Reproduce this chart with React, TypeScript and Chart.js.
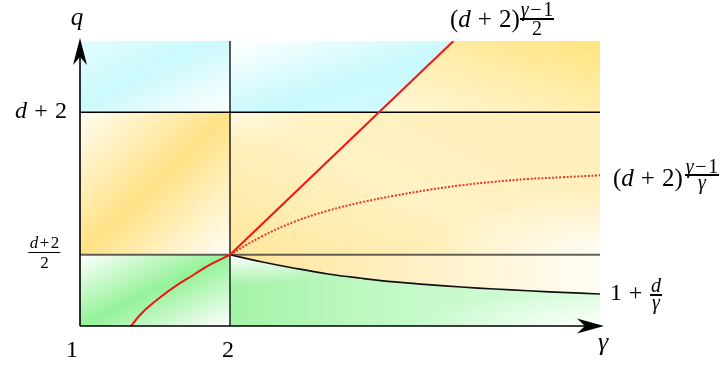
import React, { useEffect, useRef, useState } from 'react';
import { Chart, registerables } from 'chart.js';

Chart.register(...registerables);

// ---- axis ranges / reference levels ----
const GAMMA_MIN = 1;
const GAMMA_MAX = 4.467;
const Q_MIN = 1;
const Q_MAX = 5;
const gammaSplit = 2; // vertical line at gamma = 2
const qHigh = 4; // d + 2
const qMid = 2; // (d + 2) / 2

// ---- tick labels ----
const xTickValues = [1, 2];
const xTickLabels = ['1', '2'];

// ---- curves ----
const redLowGamma = [1.34, 1.39, 1.444, 1.533, 1.644, 1.756, 1.867, 2.0];
const redLowQ = [1.0, 1.13, 1.245, 1.4, 1.57, 1.716, 1.86, 2.0];

const redHighGamma = [2.0, 3.49];
const redHighQ = [2.0, 5.0];

const dottedGamma = [2.0, 2.209, 2.431, 2.653, 2.875, 3.098, 3.32, 3.542, 3.765, 3.987, 4.209, 4.467];
const dottedQ = [2.0, 2.253, 2.464, 2.618, 2.736, 2.829, 2.909, 2.975, 3.025, 3.063, 3.087, 3.115];

const blackGamma = [2.0, 2.209, 2.431, 2.653, 2.875, 3.098, 3.32, 3.542, 3.765, 3.987, 4.209, 4.467];
const blackQ = [2.0, 1.902, 1.81, 1.73, 1.67, 1.618, 1.58, 1.547, 1.519, 1.495, 1.473, 1.449];

// ---- label texts (string = upright, [string] = italic, number = gap in em) ----
type Part = string | number | [string];
const labelQ: Part[] = [['q']];
const labelGamma: Part[] = [['γ']];
const labelHigh: Part[] = [['d'], 0.3, '+', 0.3, '2'];
const labelMidNum: Part[] = [['d'], 0.08, '+', 0.08, '2'];
const labelMidDen: Part[] = ['2'];
const labelTopBase: Part[] = ['(', ['d'], 0.28, '+', 0.28, '2', ')'];
const labelTopNum: Part[] = [['γ'], 0.08, '−', 0.08, '1'];
const labelTopDen: Part[] = ['2'];
const labelDotBase: Part[] = ['(', ['d'], 0.28, '+', 0.28, '2', ')'];
const labelDotNum: Part[] = [['γ'], 0.08, '−', 0.08, '1'];
const labelDotDen: Part[] = [['γ']];
const labelBlackBase: Part[] = ['1', 0.28, '+', 0.28];
const labelBlackNum: Part[] = [['d']];
const labelBlackDen: Part[] = [['γ']];

const FONT = "'Liberation Serif', 'Times New Roman', serif";
const ASC = 0.8375; // baseline offset for line-height = 1em (Liberation Serif)

const pts = (gs: number[], qs: number[]) => gs.map((g, i) => ({ x: g, y: qs[i] }));

function renderParts(parts: Part[]) {
  return parts.map((p, i) => {
    if (typeof p === 'number') return <span key={i} style={{ display: 'inline-block', width: `${p}em` }} />;
    if (Array.isArray(p)) return <i key={i}>{p[0]}</i>;
    return <span key={i}>{p}</span>;
  });
}

type FracSpec = { num: Part[]; den: Part[]; size: number; barY: number; numOff: number; denOff: number; gap: number };

function MathLabel(props: {
  x: number;
  base: number;
  size: number;
  run?: Part[];
  frac?: FracSpec;
  align?: 'left' | 'center' | 'right';
}) {
  const { x, base, size, run, frac, align = 'left' } = props;
  let top: number;
  let runMargin = 0;
  let fracEl: any = null;
  if (frac) {
    const S = frac.size;
    const m1 = frac.numOff - (1 - ASC) * S - 0.6;
    const m2 = frac.denOff - 0.6 - ASC * S;
    top = frac.barY - 0.6 - m1 - S;
    runMargin = base - top - ASC * size;
    fracEl = (
      <span
        style={{
          display: 'inline-flex',
          flexDirection: 'column',
          alignItems: 'center',
          fontSize: S,
          lineHeight: `${S}px`,
          marginLeft: frac.gap,
        }}
      >
        <span style={{ display: 'block', height: S, marginBottom: m1, whiteSpace: 'nowrap' }}>{renderParts(frac.num)}</span>
        <span style={{ display: 'block', height: 1.2, background: '#000', alignSelf: 'stretch', margin: `0 -${S * 0.06}px` }} />
        <span style={{ display: 'block', height: S, marginTop: m2, whiteSpace: 'nowrap' }}>{renderParts(frac.den)}</span>
      </span>
    );
  } else {
    top = base - ASC * size;
  }
  const style: any = {
    position: 'absolute',
    top,
    display: 'flex',
    alignItems: 'flex-start',
    whiteSpace: 'nowrap',
    fontFamily: FONT,
    color: '#000',
  };
  if (align === 'left') style.left = x;
  if (align === 'right') style.right = 722 - x;
  if (align === 'center') {
    style.left = x;
    style.transform = 'translateX(-50%)';
  }
  return (
    <div style={style}>
      {run && (
        <span style={{ display: 'block', fontSize: size, lineHeight: `${size}px`, height: size, marginTop: runMargin }}>
          {renderParts(run)}
        </span>
      )}
      {fracEl}
    </div>
  );
}

type Layer = { lin?: number[]; rad?: number[]; stops: [number, string][] };
type Region = { rect: number[]; clips: number[][][]; layers: Layer[] };

const regionsPlugin = {
  id: 'regions',
  beforeDatasetsDraw(chart: any) {
    const { ctx } = chart;
    const xs = chart.scales.x;
    const ys = chart.scales.y;
    const px = (g: number) => xs.getPixelForValue(g);
    const py = (q: number) => ys.getPixelForValue(q);

    const redTop: number[][] = [
      [redHighGamma[0], redHighQ[0]],
      [redHighGamma[1], redHighQ[1]],
    ];
    const cyanTri = [redTop[0], [gammaSplit, Q_MAX], redTop[1]];
    const yellowPoly = [redTop[0], redTop[1], [GAMMA_MAX, Q_MAX], [GAMMA_MAX, qMid]];
    const blackPts = blackGamma.map((g, i) => [g, blackQ[i]]);
    const belowBlack = [...blackPts, [GAMMA_MAX, Q_MIN], [gammaSplit, Q_MIN]];
    const aboveBlack = [[gammaSplit, qMid], [GAMMA_MAX, qMid], ...blackPts.slice().reverse()];

    const regions: Region[] = [
      {
        rect: [GAMMA_MIN, gammaSplit, qHigh, Q_MAX],
        clips: [],
        layers: [{ lin: [0, 0, 1, 1], stops: [[0, '#e2fdfe'], [0.45, '#cbf9fc'], [1, '#ffffff']] }],
      },
      {
        rect: [gammaSplit, redHighGamma[1], qHigh, Q_MAX],
        clips: [cyanTri],
        layers: [{ lin: [0, 0, 1, 1], stops: [[0, '#ffffff'], [0.55, '#c9f9fc'], [1, '#d4fafd']] }],
      },
      {
        rect: [3.0, GAMMA_MAX, qHigh, Q_MAX],
        clips: [yellowPoly],
        layers: [{ lin: [0, 1, 1, 0], stops: [[0, '#fff8dc'], [1, '#ffe47f']] }],
      },
      {
        rect: [GAMMA_MIN, gammaSplit, qMid, qHigh],
        clips: [],
        layers: [{ lin: [0, 0, 1, 1], stops: [[0, '#fffdf3'], [0.5, '#ffe286'], [1, '#fffef8']] }],
      },
      {
        rect: [gammaSplit, GAMMA_MAX, qMid, qHigh],
        clips: [],
        layers: [
          { lin: [0, 1, 1, 0.2], stops: [[0, '#ffe79c'], [0.5, '#fff2c4'], [1, '#ffefba']] },
          { rad: [1, 1, 0.45], stops: [[0, 'rgba(255,255,255,0.85)'], [1, 'rgba(255,255,255,0)']] },
          { rad: [0, 0, 0.22], stops: [[0, 'rgba(255,255,255,0.5)'], [1, 'rgba(255,255,255,0)']] },
        ],
      },
      {
        rect: [gammaSplit, GAMMA_MAX, 1.4, qMid],
        clips: [aboveBlack],
        layers: [{ lin: [0, 0, 1, 0], stops: [[0, '#ffe498'], [0.6, '#fff3cf'], [1, '#fffdf5']] }],
      },
      {
        rect: [GAMMA_MIN, gammaSplit, Q_MIN, qMid],
        clips: [],
        layers: [{ lin: [0, 0, 1, 1], stops: [[0, '#ffffff'], [0.5, '#94f299'], [1, '#ffffff']] }],
      },
      {
        rect: [gammaSplit, GAMMA_MAX, Q_MIN, qMid],
        clips: [belowBlack],
        layers: [
          { lin: [0, 0, 1, 0], stops: [[0, '#a4f3a7'], [0.45, '#c3f9c7'], [1, '#d8fddb']] },
          { rad: [0, 0, 0.42], stops: [[0, 'rgba(255,255,255,1)'], [1, 'rgba(255,255,255,0)']] },
          { rad: [1, 1, 0.5], stops: [[0, 'rgba(255,255,255,0.9)'], [1, 'rgba(255,255,255,0)']] },
        ],
      },
    ];

    for (const r of regions) {
      const [g0, g1, q0, q1] = r.rect;
      const X0 = px(g0);
      const Y0 = py(q1);
      const W = px(g1) - X0;
      const H = py(q0) - Y0;
      ctx.save();
      ctx.beginPath();
      ctx.rect(X0, Y0, W, H);
      ctx.clip();
      for (const poly of r.clips) {
        ctx.beginPath();
        poly.forEach(([g, q], i) => (i ? ctx.lineTo(px(g), py(q)) : ctx.moveTo(px(g), py(q))));
        ctx.closePath();
        ctx.clip();
      }
      ctx.translate(X0, Y0);
      ctx.scale(W, H);
      for (const l of r.layers) {
        const gr = l.lin
          ? ctx.createLinearGradient(l.lin[0], l.lin[1], l.lin[2], l.lin[3])
          : ctx.createRadialGradient(l.rad![0], l.rad![1], 0, l.rad![0], l.rad![1], l.rad![2]);
        l.stops.forEach(([o, c]) => gr.addColorStop(o, c));
        ctx.fillStyle = gr;
        ctx.fillRect(0, 0, 1, 1);
      }
      ctx.restore();
    }
  },
};

const axesPlugin = {
  id: 'axesArrows',
  afterDraw(chart: any) {
    const { ctx } = chart;
    const ox = chart.scales.x.getPixelForValue(GAMMA_MIN);
    const oy = chart.scales.y.getPixelForValue(Q_MIN);
    ctx.save();
    ctx.fillStyle = '#000';
    ctx.strokeStyle = '#000';
    ctx.lineWidth = 1.6;
    ctx.beginPath();
    ctx.moveTo(ox, oy);
    ctx.lineTo(ox, 52);
    ctx.moveTo(ox, oy);
    ctx.lineTo(590, oy);
    ctx.stroke();
    ctx.beginPath();
    ctx.moveTo(ox, 38);
    ctx.lineTo(ox + 7, 65);
    ctx.lineTo(ox, 57);
    ctx.lineTo(ox - 7, 65);
    ctx.closePath();
    ctx.fill();
    const tx = 604;
    ctx.beginPath();
    ctx.moveTo(tx, oy);
    ctx.lineTo(tx - 27, oy - 7.5);
    ctx.lineTo(tx - 19, oy);
    ctx.lineTo(tx - 27, oy + 7.5);
    ctx.closePath();
    ctx.fill();
    ctx.restore();
  },
};

type Pos = { ticks: number[]; yHigh: number; yMid: number };

export default function App() {
  const ref = useRef<HTMLCanvasElement>(null);
  const [pos, setPos] = useState<Pos | null>(null);
  useEffect(() => {
    const line = (data: any[], color: string, width: number, order: number, extra: any = {}) => ({
      data,
      showLine: true,
      fill: false,
      borderColor: color,
      borderWidth: width,
      pointRadius: 0,
      pointHoverRadius: 0,
      order,
      ...extra,
    });
    const chart = new Chart(ref.current!, {
      type: 'scatter',
      data: {
        datasets: [
          line(pts(redHighGamma, redHighQ), '#f21414', 2, 0),
          line(pts(redLowGamma, redLowQ), '#f21414', 2, 0, { tension: 0.4 }),
          line(pts(dottedGamma, dottedQ), '#e4382a', 2, 1, { borderDash: [2, 1.6], tension: 0.4 }),
          line(pts(blackGamma, blackQ), '#111111', 1.7, 1, { tension: 0.4 }),
          line(pts([GAMMA_MIN, GAMMA_MAX], [qHigh, qHigh]), '#000000', 1.3, 5),
          line(pts([GAMMA_MIN, GAMMA_MAX], [qMid, qMid]), 'rgba(70,70,64,0.85)', 1.8, 5),
          line(pts([gammaSplit, gammaSplit], [Q_MIN, Q_MAX]), '#000000', 1.3, 5),
        ],
      },
      options: {
        animation: false,
        responsive: false,
        devicePixelRatio: 1,
        layout: { padding: { left: 80, right: 122, top: 41, bottom: 39 } },
        scales: {
          x: { type: 'linear', min: GAMMA_MIN, max: GAMMA_MAX, display: false },
          y: { type: 'linear', min: Q_MIN, max: Q_MAX, display: false },
        },
        plugins: { legend: { display: false }, tooltip: { enabled: false } },
        events: [],
      },
      plugins: [regionsPlugin, axesPlugin],
    } as any);
    const xs: any = chart.scales.x;
    const ys: any = chart.scales.y;
    setPos({
      ticks: xTickValues.map((v) => xs.getPixelForValue(v)),
      yHigh: ys.getPixelForValue(qHigh),
      yMid: ys.getPixelForValue(qMid),
    });
    return () => {
      chart.destroy();
    };
  }, []);
  const tickShift = [-8, -2];
  return (
    <div style={{ position: 'fixed', left: 0, top: 0, width: 722, height: 365, background: '#ffffff', overflow: 'hidden' }}>
      <canvas ref={ref} width={722} height={365} style={{ display: 'block', width: 722, height: 365 }} />
      {pos && (
        <>
          <MathLabel x={77} base={25} size={25} run={labelQ} align="center" />
          <MathLabel x={603} base={351} size={26} run={labelGamma} align="center" />
          {xTickLabels.map((t, i) => (
            <MathLabel key={t} x={pos.ticks[i] + tickShift[i]} base={357} size={24} run={[t]} align="center" />
          ))}
          <MathLabel x={67} base={pos.yHigh + 6} size={24} run={labelHigh} align="right" />
          <MathLabel
            x={44.5}
            base={0}
            size={17}
            align="center"
            frac={{ num: labelMidNum, den: labelMidDen, size: 17, barY: pos.yMid - 2.5, numOff: 4, denOff: 16, gap: 0 }}
          />
          <MathLabel
            x={450}
            base={27}
            size={25}
            run={labelTopBase}
            frac={{ num: labelTopNum, den: labelTopDen, size: 20, barY: 19, numOff: 3.5, denOff: 16, gap: 1 }}
          />
          <MathLabel
            x={613}
            base={186}
            size={25}
            run={labelDotBase}
            frac={{ num: labelDotNum, den: labelDotDen, size: 20, barY: 175, numOff: 2.5, denOff: 14, gap: 3 }}
          />
          <MathLabel
            x={610}
            base={300}
            size={24}
            run={labelBlackBase}
            frac={{ num: labelBlackNum, den: labelBlackDen, size: 20, barY: 295, numOff: 3.5, denOff: 14, gap: 2 }}
          />
        </>
      )}
    </div>
  );
}
